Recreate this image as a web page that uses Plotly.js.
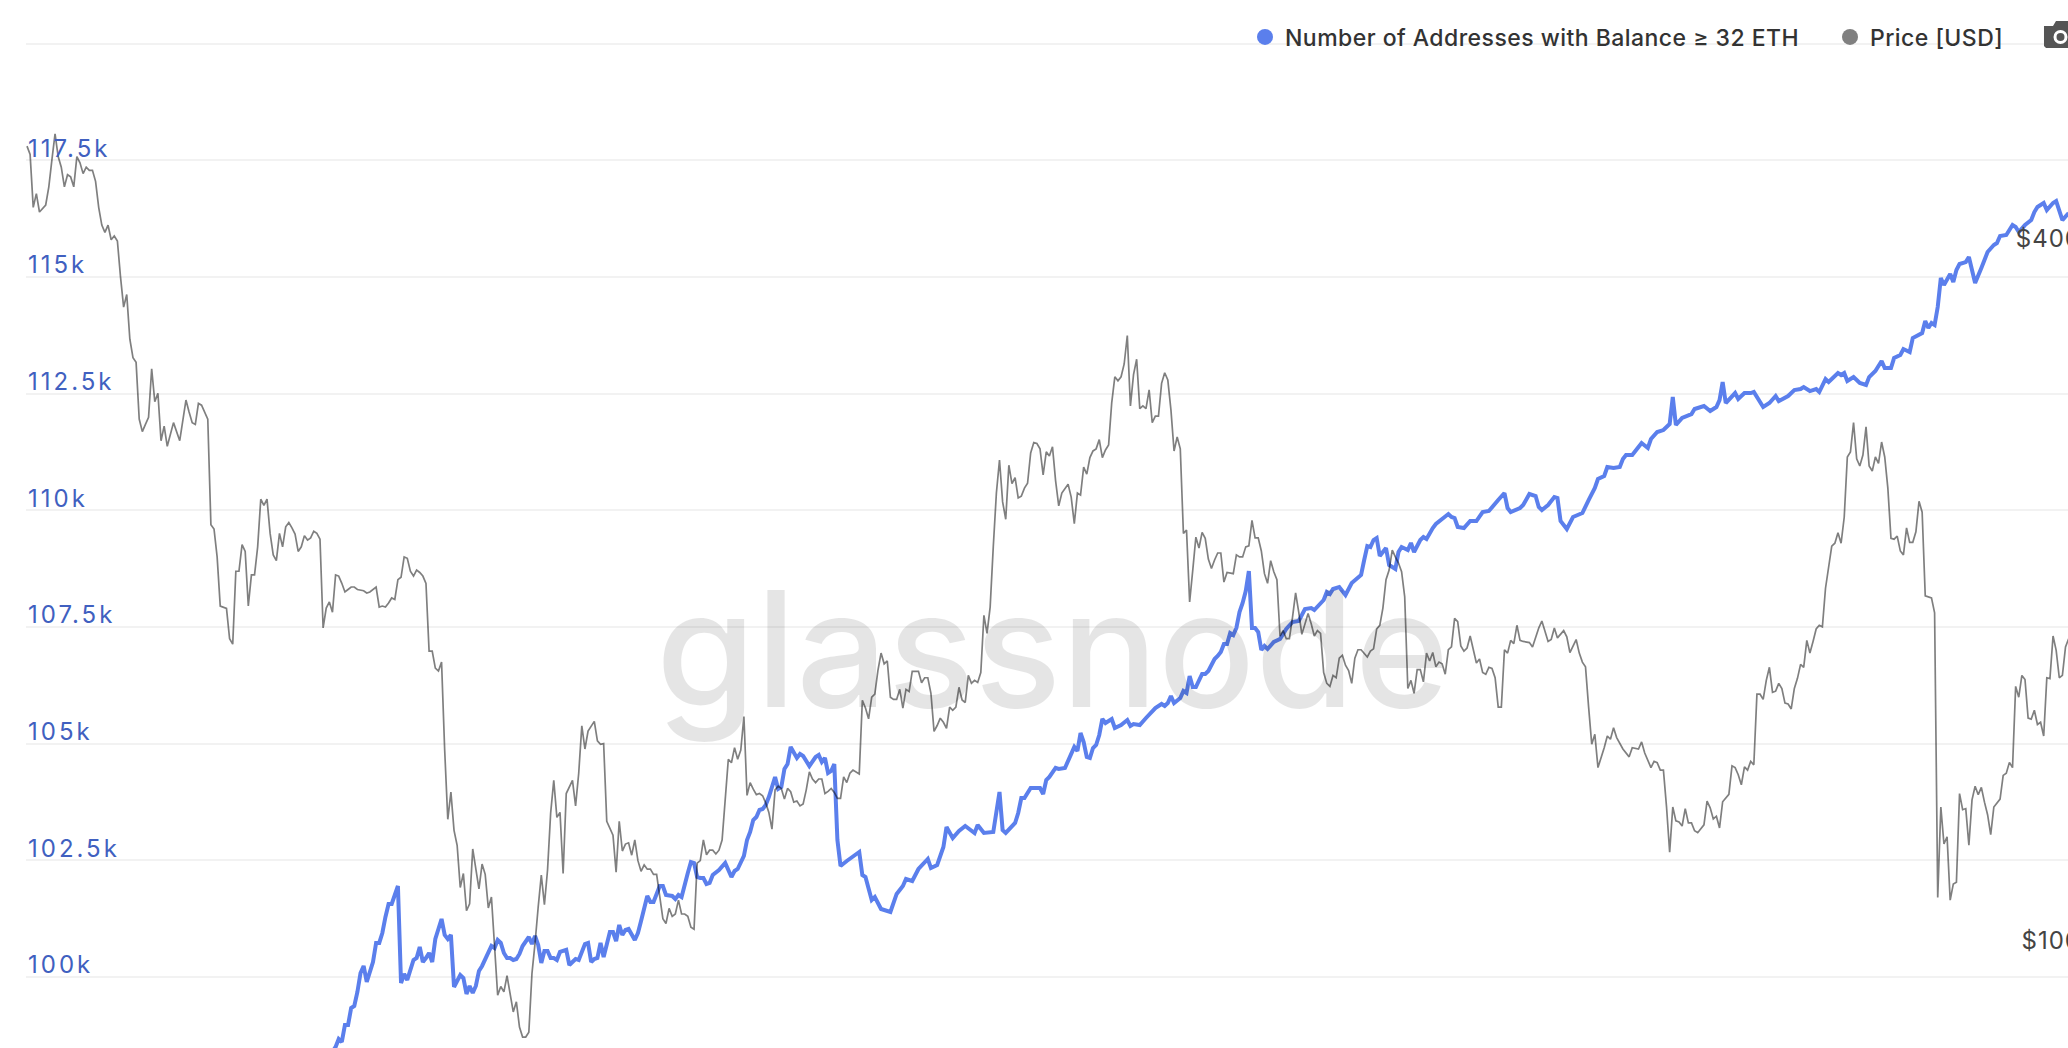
<!DOCTYPE html>
<html><head><meta charset="utf-8">
<script src="https://cdn.plot.ly/plotly-3.0.1.min.js"></script>
<style>html,body{margin:0;padding:0;background:#fff;overflow:hidden;width:2068px;height:1048px}#chart{width:2084px;height:1048px}
.ytick text{letter-spacing:3px}.y2tick text{letter-spacing:1px}.legendtext{letter-spacing:0.46px}</style>
</head><body><div id="chart"></div>
<script>
const addressLabel = "Number of Addresses with Balance ≥ 32 ETH";
const priceLabel = "Price [USD]";
const addressTicks = [100000,102500,105000,107500,110000,112500,115000,117500,120000];
const addressTickText = ["100k","102.5k","105k","107.5k","110k","112.5k","115k","117.5k",""];
const priceTicks = [100,400];
const priceTickText = ["$100","$400"];

const priceDays = [0,1,2,3,4,6,7,8,9,10,11,12,13,14,15,16,17,18,19,20,21,22,23,24,25,26,27,28,29,30,31,32,33,34,35,36,37,38,39,40,41,42,43,44,45,47,49,51,52,53,54,55,56,58,59,60,61,62,64,65,66,67,68,69,70,71,72,73,74,75,76,77,78,79,80,81,82,83,84,85,86,87,88,89,90,91,92,93,94,95,96,97,98,99,100,101,102,103,104,105,106,108,109,110,112,113,114,115,116,117,118,119,120,121,122,123,124,125,126,127,128,129,130,131,132,133,134,135,136,137,138,139,140,141,142,143,145,146,147,148,149,151,152,153,154,156,157,158,159,160,161,162,163,164,165,166,167,168,169,170,171,172,173,175,176,177,178,179,180,182,183,184,185,186,188,189,190,191,192,193,194,195,196,197,198,199,200,201,202,204,205,206,207,208,209,210,211,212,213,214,215,216,217,218,219,220,221,222,223,225,226,227,228,229,230,231,232,233,234,235,236,237,238,239,240,241,242,243,244,245,246,247,248,249,250,251,252,253,254,255,256,257,258,259,260,261,262,263,264,265,267,268,269,270,271,272,273,274,275,276,277,278,279,280,281,282,283,284,286,287,288,289,290,291,292,293,294,295,296,297,298,299,300,301,302,303,304,305,306,307,308,309,310,311,312,313,314,315,316,317,318,319,320,321,322,323,324,325,326,327,328,329,330,331,332,334,335,336,337,338,339,340,341,342,343,344,345,346,347,348,349,350,351,352,353,354,355,356,357,358,359,360,361,362,363,364,365,366,367,368,369,370,371,372,373,374,375,376,377,378,379,380,381,382,383,384,385,387,388,389,390,391,392,393,394,395,396,397,398,399,400,401,402,403,404,405,406,407,408,409,411,412,413,414,415,416,417,418,419,420,421,422,423,424,425,426,427,428,430,431,432,433,434,435,436,437,438,439,440,441,442,443,444,445,446,447,448,449,450,451,452,453,454,455,456,457,458,459,460,461,462,463,465,466,467,468,469,470,471,472,473,474,475,476,477,478,479,480,482,483,485,486,488,489,490,491,493,494,495,497,498,499,500,501,502,503,504,506,507,508,509,510,512,514,515,517,518,519,521,522,523,524,525,526,527,528,529,530,531,532,533,534,535,536,538,539,540,541,542,543,544,546,547,548,549,550,551,552,553,554,555,556,557,558,559,560,561,562,563,564,565,566,567,568,569,570,571,572,573,574,575,576,577,579,580,581,582,583,584,585,586,587,588,589,590,591,592,593,594,595,596,597,598,599,600,601,602,603,604,605,606,607,608,609,611,612,613,614,615,616,617,618,619,620,621,622,623,624,625,626,627,628,629,630,631,633,634,635,636,637,638,639,640,641,642,643,644,645,646,647,648,649,650,651,652,653,654,655];
const priceUsd = [492,484,436,448,432,438,454,479,504,482,472,454,465,463,454,482,476,466,472,469,469,459,436,421,415,421,409,412,408,380,358,367,336,324,321,287,280,284,288,317,297,302,275,283,272,285,275,298,291,285,284,296,295,287,233,231,218.6,198.4,197.5,186,184,212.5,212.5,224,221,198.4,211,211,223,245,242,245,229,219.5,217,229,223,232,234,231.5,228.7,221,223,228,226,227,230,229,226.4,190,197.6,200,196,211,210.5,207.5,204,205,206,206,205,204.5,203.6,204,206,198,198.4,198,199.6,201.6,201,209,210,218.6,218,212.5,210.5,213,212,210.5,207.5,181.5,181.5,175.5,174.5,177.6,149.3,130.2,137.4,127.4,123.7,113.8,117,108.7,110.2,122.8,113.5,119.2,116.8,109.3,111.7,92,93.6,92.6,95.6,89,90.8,86.4,84.7,84.7,85.5,96,102,109.5,116.6,110,117.8,131.8,140.6,130.7,132,117,137,140.6,133.7,142.6,156.6,149.6,155,158,152,151,151.2,129.7,126.2,117.3,129.7,122.3,124,124.3,121.3,125,120,117.5,119,118,118,116.8,116.8,107,106,109.2,107.5,108,111,108,108,107.5,105.2,104.8,119.4,120,125,121.4,122.5,122.5,121.6,122.5,125,146.6,145.6,150,146.6,149.3,159.5,136.5,140,138.2,136.7,137,136.4,134.5,132,127.7,138,139,138.4,135.5,138.4,137.5,134.7,135,133.7,134.2,138,143,141,140,141,141,137,137.6,138.4,137.3,135.7,135.7,141.6,140,142.6,143.5,142.4,164.7,162.2,158.8,165.7,166.7,174.7,180.8,177,178,165.7,165,165,168.3,162.2,168.3,167.6,174.4,174.4,170.5,172.2,172.2,167,154.9,156.7,159,157.7,155.8,162.5,161.5,162.5,169,164.8,164,173,170.3,171.3,170.6,174,194.8,188,198,223,248,264.7,243.7,235.5,262,252.6,255.7,245.6,246.5,250.4,252.8,268.4,274,273.5,270.6,257,269,266.8,271.7,254,241.8,248,252.4,246,233.5,248,247,261,257.4,266,269.5,270.6,275.6,266,270,272.7,296.3,312,309.5,312,320,338.5,294.6,313.3,323,293,294.6,293,304,285,288.7,288.7,308,314.5,310,292.3,269.5,277,270.6,229,230.5,200,213,227.3,222.5,229.5,226.8,217.7,213.7,217.3,220.3,220.3,208,212,211.5,219.5,218.6,218.6,223,223.4,235,227,227,221.2,211.5,207.5,217,212.3,209,187,189,186,186,194,203.6,196,187.6,195.5,191.6,187,189,188,174,170.3,169.3,173,172.2,179,180,176.5,174.7,170.3,179,182,182,179.4,181.5,182.3,189.6,191,197.6,209,213,221.6,218.6,216,212.3,202,168.6,171.3,167,175,175,170.8,180.8,178,181,176,177.6,177,173.4,182,183,193.6,192.4,183.4,181.5,182.6,187,177.3,178.7,174,173.4,175.8,175.4,172.2,162.5,162.5,182,180.8,185.4,184.2,191,185.4,185,184.6,183,190,192.6,185,185.7,190,186.3,189,186.7,181,185.7,180.8,177.6,176,162.5,151,154,144.2,150,153.5,152.5,156,153,149.6,147.3,150,149.6,151.7,148.4,144.2,146,145.6,143.5,143.5,133.4,122,133.4,129.8,129.5,128.5,133,129.3,129.3,127.3,126.8,128.8,135,133.2,130.3,131,128,134.8,136.8,144.7,144.2,142.2,139.4,144.4,143.5,146,145,166.7,166.7,165,171.3,175.8,167.3,167.7,170.3,168.6,163.8,163.5,161.9,168.6,172,176.8,175.8,185.4,180.8,185,189.6,191,190.4,205.5,223.3,224.6,229.3,224.6,236.4,266.3,269,285,265.3,261.6,267.3,282.6,261.6,259,266.3,263,274.3,266.3,250.4,226.8,226.4,227.8,221.2,219.5,231.5,225,225,229.7,244,238.8,202.4,201.6,195.8,111.6,133.4,124,125.8,111,114.6,115,137,132.7,133,123.7,135.3,139,136.7,138.7,134.7,131.4,126.3,133.4,135.5,142,142.6,145.7,144.2,169.3,165.7,173,171.6,159,158.7,161.5,157,157.7,153.5,172.2,171.9,187,181.8,172.2,173,183,186];

const addressDays = [98,99,100,101,102,103,104,105,106,107,108,109,111,112,113,114,115,116,117,118,119,120,121,122,124,125,126,127,128,129,130,131,133,134,135,136,137,139,140,141,142,143,144,145,146,149,150,151,152,153,154,155,156,157,158,159,161,162,163,164,165,166,167,168,169,170,171,173,174,175,176,177,179,180,181,182,183,184,185,187,188,189,190,191,192,193,195,196,197,199,200,201,203,204,205,207,208,209,210,212,213,214,215,216,217,218,219,220,222,224,226,227,228,230,231,232,233,234,235,236,237,238,240,241,242,243,244,245,247,248,249,251,253,254,255,256,257,258,259,260,261,263,267,268,269,271,272,274,277,279,281,282,284,286,289,290,292,294,295,297,299,301,304,305,307,310,312,313,314,317,318,319,320,322,325,326,327,328,330,331,333,336,337,338,339,340,341,342,343,344,345,346,348,349,351,353,354,355,357,359,362,364,365,366,367,368,370,371,372,373,374,375,377,378,379,381,382,383,384,385,386,387,388,389,390,391,392,393,394,395,396,397,398,400,402,404,406,408,410,412,413,416,417,418,419,421,423,425,428,429,430,431,432,433,434,436,437,439,440,441,443,444,445,447,448,449,451,452,456,457,458,459,461,463,465,467,469,472,474,475,476,479,480,482,484,485,486,488,490,491,492,494,496,499,501,503,504,506,507,509,511,512,513,515,516,518,520,521,523,525,527,528,529,531,534,535,538,540,542,543,544,545,548,549,551,553,554,557,559,561,562,565,567,569,570,572,574,575,577,578,581,582,583,584,586,588,590,591,593,595,596,598,599,601,602,604,605,608,609,610,611,612,613,614,615,617,618,619,620,622,623,625,627,628,629,631,632,633,635,637,638,639,641,643,644,645,647,648,650,651,653,655];
const addressCounts = [98400,98500,98671,98607,98971,98971,99336,99379,99679,100086,100236,99893,100321,100729,100729,100943,101286,101564,101564,101757,101950,99871,100064,99936,100364,100407,100643,100321,100407,100514,100321,100814,101243,100900,100814,100900,99786,100043,99979,99636,99807,99657,99807,100129,100236,100664,100621,100793,100729,100514,100407,100407,100364,100386,100493,100664,100857,100707,100879,100686,100300,100557,100557,100407,100407,100364,100536,100579,100257,100321,100386,100364,100707,100729,100321,100386,100407,100729,100429,100964,100964,100771,101114,100900,101007,101029,100793,100943,101200,101736,101607,101607,101950,101950,101757,101736,101671,101757,101714,102229,102464,102443,102143,102121,102121,101993,102014,102186,102293,102443,102143,102271,102314,102593,102936,103107,103364,103429,103579,103600,103686,103857,104286,104029,104071,104457,104564,104929,104693,104779,104736,104521,104714,104757,104607,104693,104371,104414,104564,102936,102379,102486,102679,102186,102143,101650,101714,101457,101393,101779,101950,102100,102057,102314,102529,102336,102400,102786,103214,102979,103129,103236,103086,103257,103086,103107,103964,103150,103086,103300,103514,103836,103836,104050,104050,103921,104221,104286,104479,104457,104479,104929,104843,105229,105036,104714,104693,104907,104971,105186,105529,105443,105529,105336,105400,105507,105379,105421,105400,105550,105764,105850,105807,105871,106021,105871,105979,106129,106086,106450,106214,106214,106493,106493,106557,106814,106879,106964,107136,107136,107371,107329,107479,107821,108014,108271,108700,107479,107479,107393,107007,107093,107029,107179,107243,107457,107607,107629,107886,107907,107864,108079,108250,108207,108314,108357,108186,108443,108614,108936,109236,109214,109364,109407,109021,109193,108829,108743,109107,109214,109150,109300,109107,109364,109429,109386,109621,109707,109921,109857,109836,109643,109621,109771,109771,109964,109986,110221,110371,110050,109964,110050,110114,110350,110307,110071,110007,110114,110286,110264,109771,109600,109857,109943,110221,110479,110671,110736,110929,110907,110929,111100,111186,111186,111271,111443,111336,111529,111679,111721,111850,112429,111829,111979,112064,112171,112236,112129,112214,112364,112750,112300,112514,112386,112514,112514,112536,112214,112300,112450,112343,112450,112579,112600,112643,112557,112600,112536,112814,112750,112943,112900,112943,112771,112857,112729,112686,112857,112986,113200,113050,113050,113264,113329,113457,113393,113693,113800,114057,113907,114014,113971,114357,114979,114829,115064,114893,115150,115279,115321,115429,114871,115193,115364,115536,115686,115729,115879,115900,116114,116071,115964,116114,116221,116393,116500,116586,116436,116586,116629,116221,116371];

const W = 2084, H = 1048, L = 26;
const xp = px => (px - L) / (W - L);
const yp = py => 1 - py / H;
const P = (px, py) => xp(px).toFixed(5) + ',' + yp(py).toFixed(5);

const traces = [
  {x: addressDays, y: addressCounts, yaxis: 'y', mode: 'lines', showlegend: false,
   line: {color: '#5b7fec', width: 4, simplify: false}, hoverinfo: 'skip'},
  {x: priceDays, y: priceUsd, yaxis: 'y2', mode: 'lines', showlegend: false,
   line: {color: 'rgba(0,0,0,0.5)', width: 1.7, simplify: false}, hoverinfo: 'skip'},
  {x: [null], y: [null], mode: 'markers', name: addressLabel, marker: {color: '#5b7fec', size: 16, symbol: 'circle'}},
  {x: [null], y: [null], mode: 'markers', name: priceLabel, marker: {color: '#808080', size: 16, symbol: 'circle'}}
];

const layout = {
  width: W, height: H, autosize: false,
  margin: {l: L, r: 0, t: 0, b: 0, pad: 0, autoexpand: false},
  paper_bgcolor: '#fff', plot_bgcolor: '#fff',
  font: {family: 'Inter, sans-serif', color: '#333'},
  xaxis: {visible: false, range: [-0.32, (W - 27) / 3.117], fixedrange: true},
  yaxis: {range: [98478, 120937], tickmode: 'array', tickvals: addressTicks, ticktext: addressTickText,
          ticklabelposition: 'inside', ticklabelshift: -12, ticklabelstandoff: -1, ticks: '', side: 'left',
          tickfont: {family: 'Inter, sans-serif', size: 24, color: '#4060c0'},
          showgrid: true, gridcolor: '#f2f2f2', gridwidth: 2, zeroline: false, showline: false, fixedrange: true},
  yaxis2: {type: 'log', range: [1.9185, 2.8173], overlaying: 'y', side: 'right', tickmode: 'array',
           tickvals: priceTicks, ticktext: priceTickText, ticklabelposition: 'inside', ticklabelshift: -12, ticks: '',
           tickfont: {family: 'Inter, sans-serif', size: 24, color: '#444'},
           showgrid: false, zeroline: false, showline: false, fixedrange: true},
  showlegend: true,
  legend: {orientation: 'h', xanchor: 'left', yanchor: 'middle', x: xp(1245), y: yp(37), bgcolor: 'rgba(0,0,0,0)',
           entrywidth: 540, entrywidthmode: 'pixels',
           font: {family: 'Inter, sans-serif', size: 23, weight: 500, color: '#333'}, itemclick: false, itemdoubleclick: false},
  annotations: [{text: 'glassnode', xref: 'paper', yref: 'paper', x: xp(1052), y: yp(648), xanchor: 'center', yanchor: 'middle',
                 showarrow: false, font: {family: 'Inter, sans-serif', size: 161, weight: 500, color: 'rgba(0,0,0,0.1)'}}],
  shapes: [
    {type: 'path', xref: 'paper', yref: 'paper', layer: 'above', fillcolor: '#555', line: {width: 0},
     path: 'M' + P(2044,26) + ' L' + P(2053,26) + ' L' + P(2056,21) + ' L' + P(2084,21) + ' L' + P(2084,48) + ' L' + P(2046,48) + ' L' + P(2044,46) + ' Z'},
    {type: 'circle', xref: 'paper', yref: 'paper', layer: 'above', fillcolor: '#555', line: {color: '#fff', width: 3},
     x0: xp(2055), x1: xp(2066), y0: yp(42.5), y1: yp(31.5)}
  ]
};
Plotly.newPlot('chart', traces, layout, {displayModeBar: false, responsive: false});
</script></body></html>
